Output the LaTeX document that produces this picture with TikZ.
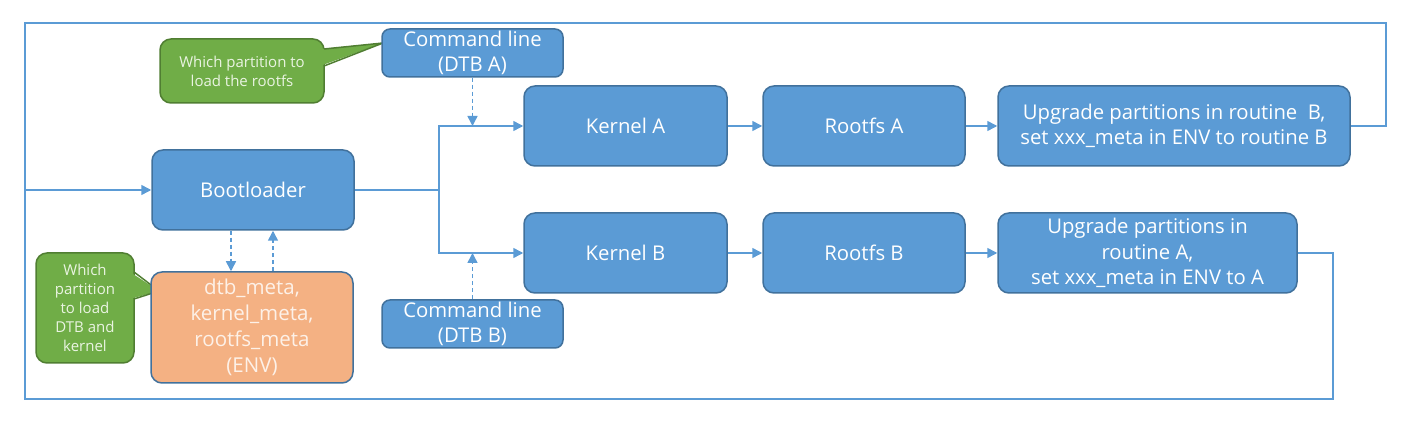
\documentclass[tikz,border=0pt]{standalone}
\usepackage{fontspec}
\setmainfont{Open Sans}
\usetikzlibrary{arrows.meta}
\definecolor{boxblue}{HTML}{5B9BD5}
\definecolor{boxedge}{HTML}{41719C}
\definecolor{linecol}{HTML}{5B9BD5}
\definecolor{calgreen}{HTML}{70AD47}
\definecolor{caledge}{HTML}{507E32}
\definecolor{calltext}{HTML}{EAF4E2}
\definecolor{envorange}{HTML}{F4B183}
\definecolor{envtext}{HTML}{FDF1E8}
\begin{document}
\begin{tikzpicture}[x=1pt,y=-1pt,
  blk/.style={draw=boxedge, fill=boxblue, line width=1.5pt, rounded corners=11pt,
    text=white, align=center, inner sep=0pt, font=\fontsize{20.3}{25.5}\selectfont},
  cmdbox/.style={blk, rounded corners=8pt, font=\fontsize{20.3}{25}\selectfont},
  envbox/.style={blk, fill=envorange, text=envtext, font=\fontsize{20.5}{26}\selectfont},
  callout/.style={draw=caledge, fill=calgreen, line width=1.5pt, rounded corners=11pt,
    text=calltext, align=center, inner sep=0pt, font=\fontsize{15}{19}\selectfont},
  conn/.style={draw=linecol, line width=1.5pt},
  arr/.style={conn, -{Triangle[length=10pt,width=10pt]}},
  dline/.style={conn, dash pattern=on 4pt off 3pt}
]
\useasboundingbox (0,0) rectangle (1411,427);

% callouts
\node[callout, minimum width=164pt, minimum height=64pt] (call1) at (242,71)
  {Which partition to\\load the rootfs};
\fill[calgreen] (320,49) -- (383,43) -- (320,66) -- cycle;
\draw[draw=caledge, line width=1.5pt, line join=round] (324,49) -- (383,43) -- (324,66);

\node[callout, minimum width=98pt, minimum height=110pt] (call2) at (85,308)
  {Which\\partition\\to load\\DTB and\\kernel};
\fill[calgreen] (130,272) -- (159,291) -- (130,299) -- cycle;
\draw[draw=caledge, line width=1.5pt, line join=round] (134,272) -- (159,291) -- (134,299);

% main blocks
\node[blk, minimum width=202pt, minimum height=80pt] (boot) at (253,190) {Bootloader};
\node[envbox, minimum width=202pt, minimum height=111pt] (env) at (252,327.5)
  {dtb\_meta,\\kernel\_meta,\\rootfs\_meta\\(ENV)};
\node[cmdbox, minimum width=181pt, minimum height=48pt] (cla) at (472.5,53)
  {Command line\\(DTB A)};
\node[cmdbox, minimum width=181pt, minimum height=48pt] (clb) at (472.5,324)
  {Command line\\(DTB B)};
\node[blk, minimum width=203pt, minimum height=80pt] (ka) at (625.5,126) {Kernel A};
\node[blk, minimum width=202pt, minimum height=80pt] (ra) at (864,126) {Rootfs A};
\node[blk, minimum width=352pt, minimum height=80pt] (ua) at (1174,126)
  {Upgrade partitions in routine\ \ B,\\set xxx\_meta in ENV to routine B};
\node[blk, minimum width=203pt, minimum height=80pt] (kb) at (625.5,253) {Kernel B};
\node[blk, minimum width=202pt, minimum height=80pt] (rb) at (864,253) {Rootfs B};
\node[blk, minimum width=299pt, minimum height=80pt] (ub) at (1147.5,253)
  {Upgrade partitions in\\routine A,\\set xxx\_meta in ENV to A};

% helper coordinates
\coordinate (tr) at (1386,23);
\coordinate (tl) at (25,23);
\coordinate (bl) at (25,399);
\coordinate (br) at (1333,399);
\coordinate (lin) at (25,190);
\coordinate (j) at (439,190);
\coordinate (da) at (cla.south |- ka.west);
\coordinate (db) at (clb.north |- kb.west);
\coordinate (eb) at ([xshift=-22pt]boot.south |- env.north);
\coordinate (be) at ([xshift=20pt]boot.south);

% loop-back lines
\draw[conn] (ua.east) -| (tr) -- (tl) -- (bl) -- (br) |- (ub.east);
\draw[arr] (lin) -- (boot.west);

% bootloader to kernels
\draw[conn] (boot.east) -- (j);
\draw[arr] (j) |- (ka.west);
\draw[arr] (j) |- (kb.west);

% flows
\draw[arr] (ka) -- (ra);
\draw[arr] (ra) -- (ua);
\draw[arr] (kb) -- (rb);
\draw[arr] (rb) -- (ub);

% dashed command line arrows (dashed shaft, solid head)
\draw[dline] (cla.south) -- ([yshift=8pt]da);
\draw[arr] ([yshift=10pt]da) -- (da);
\draw[dline] (clb.north) -- ([yshift=-8pt]db);
\draw[arr] ([yshift=-10pt]db) -- (db);

% bootloader <-> env
\draw[dline] ([xshift=-22pt]boot.south) -- ([yshift=8pt]eb);
\draw[arr] ([yshift=10pt]eb) -- (eb);
\draw[dline] ([xshift=20pt]boot.south |- env.north) -- ([yshift=-8pt]be);
\draw[arr] ([yshift=-10pt]be) -- (be);
\end{tikzpicture}
\end{document}
